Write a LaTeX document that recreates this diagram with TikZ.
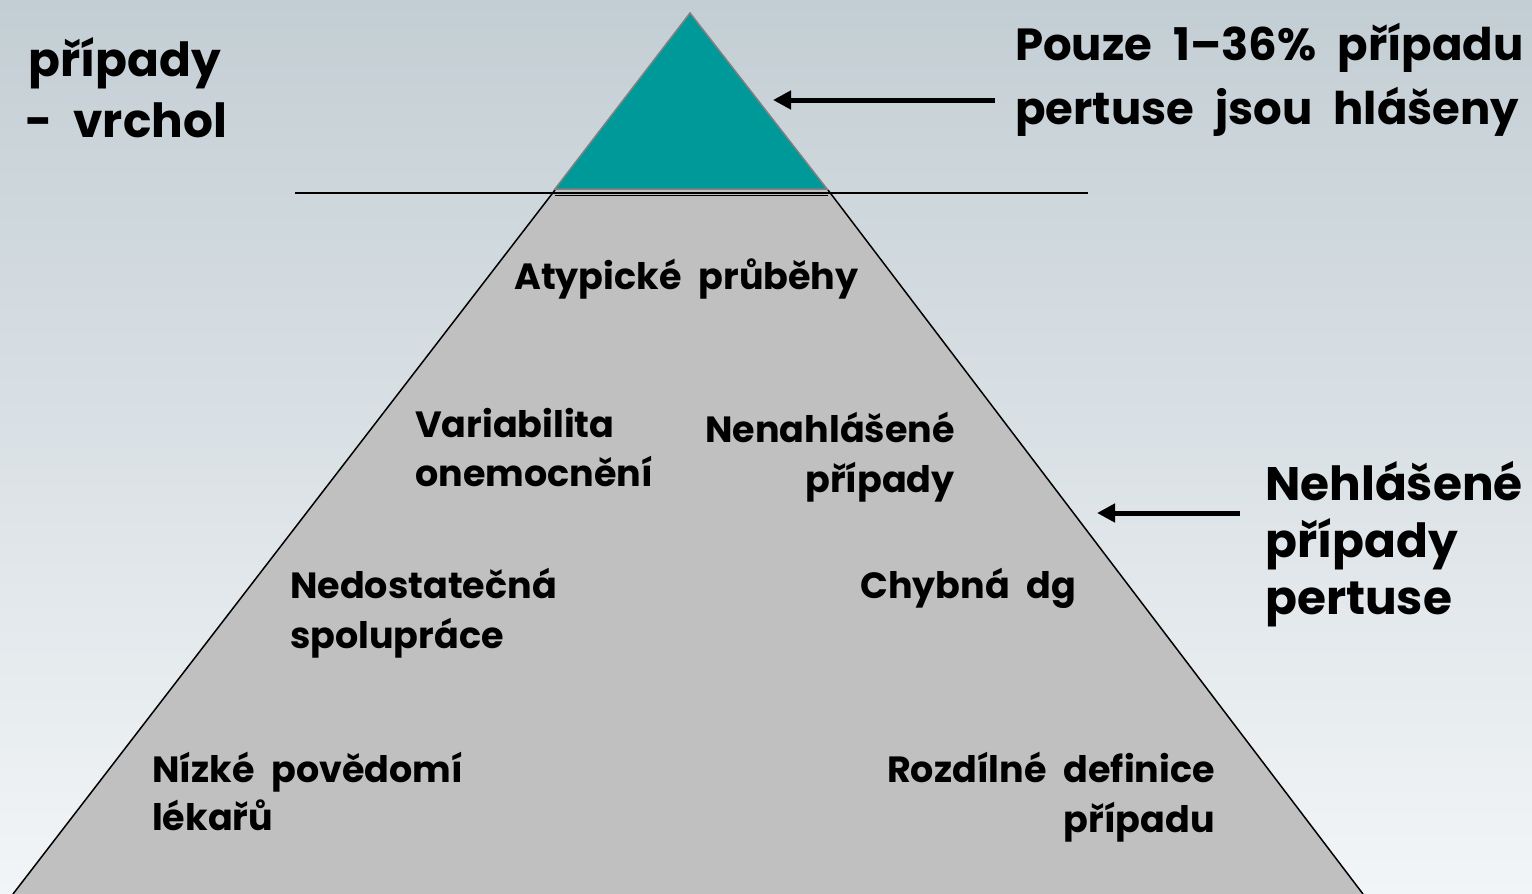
\documentclass[tikz,border=0pt]{standalone}
\usepackage{fontspec}
\setmainfont{Poppins}[BoldFont={* Bold}, WordSpace=2.2]
\usetikzlibrary{arrows.meta}
\definecolor{bgtop}{RGB}{195,206,212}
\definecolor{bgbot}{RGB}{242,245,247}
\definecolor{teal1}{RGB}{0,153,153}
\definecolor{rimgray}{RGB}{128,128,128}
\definecolor{bodygray}{RGB}{192,192,192}
\tikzset{
  big/.style={font=\fontsize{47}{54}\selectfont\bfseries, inner sep=0pt, text=black},
  bigfit/.style={font=\fontsize{45}{54}\selectfont\bfseries, inner sep=0pt, text=black},
  lbl/.style={font=\fontsize{36.5}{42}\selectfont\bfseries, inner sep=0pt, text=black},
  pointer/.style={line width=5pt, -{Triangle[length=18pt,width=18pt]}},
}
\begin{document}
\begin{tikzpicture}[x=1pt,y=-1pt]
\useasboundingbox (0,0) rectangle (1532,894);
\clip (0,0) rectangle (1532,894);
\shade[top color=bgtop, bottom color=bgbot] (0,0) rectangle (1532,894);
% submerged body
\fill[bodygray] (555,190) -- (828,190) -- (1363,894) -- (13,894) -- cycle;
\draw[line width=1.5pt] (555,190) -- (13,894);
\draw[line width=1.5pt] (828,190) -- (1363,894);
% water line
\draw[line width=1.5pt] (295,193) -- (1088,193);
\draw[line width=1.2pt] (555,195.5) -- (828,195.5);
% tip
\filldraw[fill=teal1, draw=rimgray, line width=1.5pt] (690,13) -- (827,189) -- (555,189) -- cycle;
% texts
\node[big, anchor=base west] (tl1) at (28,76) {případy};
\node[big, anchor=base west] (tl2) at (25,137) {-\hspace{0.45em}vrchol};
\node[bigfit, anchor=base west] (tr1) at (1015,60) {Pouze 1–36\% případu};
\node[bigfit, anchor=base west] (tr2) at (1015,124) {pertuse jsou hlášeny};
\node[big, anchor=base west] (r1) at (1265,500) {Nehlášené};
\node[big, anchor=base west] (r2) at (1265,557) {případy};
\node[big, anchor=base west] (r3) at (1265,614) {pertuse};
\node[lbl, anchor=base west] (a1) at (514,289) {Atypické průběhy};
\node[lbl, anchor=base west] (v1) at (415,437) {Variabilita};
\node[lbl, anchor=base west] (v2) at (415,486) {onemocnění};
\node[lbl, anchor=base east] (n1) at (955,442) {Nenahlášené};
\node[lbl, anchor=base east] (n2) at (955,492) {případy};
\node[lbl, anchor=base west] (d1) at (290,598) {Nedostatečná};
\node[lbl, anchor=base west] (d2) at (290,648) {spolupráce};
\node[lbl, anchor=base west] (c1) at (860,598) {Chybná dg};
\node[lbl, anchor=base west] (z1) at (152,782) {Nízké povědomí};
\node[lbl, anchor=base west] (z2) at (152,830) {lékařů};
\node[lbl, anchor=base east] (x1) at (1215,782) {Rozdílné definice};
\node[lbl, anchor=base east] (x2) at (1215,832) {případu};
% arrows
\coordinate (tipedge) at (773,100);
\coordinate (bodyedge) at (1097,513);
\coordinate (tailA) at (995,100);
\coordinate (tailB) at (1240,513);
\draw[pointer] (tailA) -- (tipedge);
\draw[pointer] (tailB) -- (bodyedge);
\end{tikzpicture}
\end{document}
